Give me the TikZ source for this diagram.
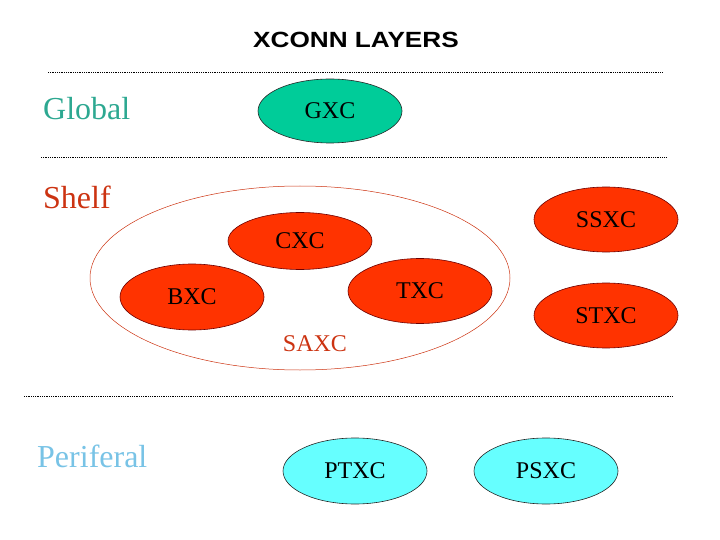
\documentclass[tikz,border=0pt]{standalone}
\usepackage{fontspec}
\setmainfont{Liberation Serif}
\newfontfamily\headfont{Liberation Sans}
\usetikzlibrary{shapes.geometric}
\definecolor{gxcgreen}{RGB}{0,204,153}
\definecolor{xcred}{RGB}{255,51,0}
\definecolor{xcedge}{RGB}{110,0,0}
\definecolor{pxccyan}{RGB}{102,255,255}
\definecolor{globaltxt}{RGB}{45,168,145}
\definecolor{shelftxt}{RGB}{204,51,17}
\definecolor{peritxt}{RGB}{120,195,230}
\tikzset{
  xc/.style={ellipse, draw=black!85, line width=0.6pt, minimum width=144pt,
    minimum height=65pt, inner sep=0pt, font=\fontsize{24}{28}\selectfont},
  shelfxc/.style={xc, fill=xcred, draw=xcedge},
  layername/.style={anchor=base west, inner sep=0pt, font=\fontsize{32}{36}\selectfont},
  sep/.style={line width=0.7pt, dash pattern=on 0.7pt off 1.1pt}
}
\begin{document}
\begin{tikzpicture}[x=1pt,y=-1pt]
    \useasboundingbox (0,0) rectangle (720,540);
    \node[anchor=base, inner sep=0pt] (title) at (356,48)
        {\scalebox{1.19}[1]{\headfont\bfseries\fontsize{22}{26}\selectfont XCONN LAYERS}};
    % layer separators
    \draw[sep] (48,72) -- (662,72);
    \draw[sep] (41,157) -- (667,157);
    \draw[sep] (24,396) -- (673,396);
    % layer names
    \node[layername, text=globaltxt] (global) at (43,120) {Global};
    \node[layername, text=shelftxt] (shelf) at (43,208) {Shelf};
    \node[layername, text=peritxt] (periferal) at (37,467) {Periferal};
    % global layer
    \node[xc, fill=gxcgreen, minimum height=64pt] (gxc) at (330,111) {GXC};
    % shelf layer
    \node[ellipse, draw=shelftxt, line width=0.5pt, minimum width=420pt,
        minimum height=184pt, inner sep=0pt] (saxcring) at (300,278) {};
    \node[text=shelftxt, font=\fontsize{24}{28}\selectfont] (saxc) at (315,344) {SAXC};
    \node[shelfxc, minimum height=57pt] (cxc) at (300,241) {CXC};
    \node[shelfxc, minimum height=66pt] (bxc) at (192,297) {BXC};
    \node[shelfxc] (txc) at (420,291) {TXC};
    \node[shelfxc] (ssxc) at (606,219.5) {SSXC};
    \node[shelfxc] (stxc) at (606,315.5) {STXC};
    % periferal layer
    \node[xc, fill=pxccyan, minimum height=66pt] (ptxc) at (355,471) {PTXC};
    \node[xc, fill=pxccyan, minimum height=66pt] (psxc) at (546,471) {PSXC};
\end{tikzpicture}
\end{document}
